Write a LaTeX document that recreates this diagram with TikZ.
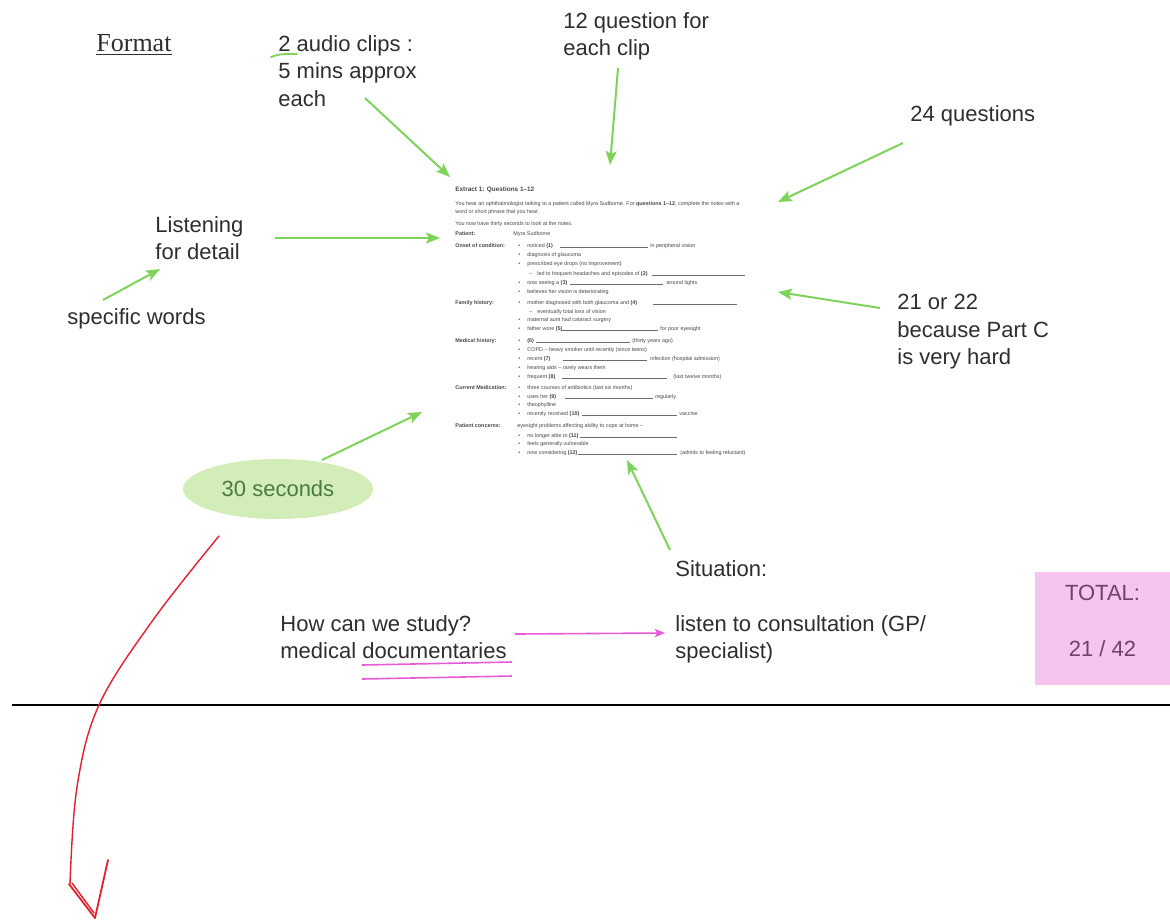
\documentclass[tikz,border=0pt]{standalone}
\usepackage{fontspec}
\setmainfont{Liberation Sans}
\newfontfamily\formatfont{Liberation Serif}
\usetikzlibrary{arrows.meta,shapes.geometric}

\definecolor{notegreen}{HTML}{7ED35A}
\definecolor{bubblegreen}{HTML}{D2EDB8}
\definecolor{bubbletext}{HTML}{4C7A3E}
\definecolor{notepink}{HTML}{E85BD6}
\definecolor{totalpink}{HTML}{F6C4EC}
\definecolor{totaltext}{HTML}{6B4467}
\definecolor{inkred}{HTML}{E3202E}
\definecolor{notetext}{HTML}{2E2E2E}
\definecolor{doctext}{HTML}{474747}

\newcommand{\bul}{\makebox[4.5pt][l]{\textbullet}}
\newcommand{\subdash}{\makebox[4pt][l]{–}}

\begin{document}
\begin{tikzpicture}[x=0.5pt,y=-0.5pt,
  note/.style={font=\fontsize{11}{13.75}\selectfont, text=notetext,
    align=left, inner sep=0pt, anchor=north west},
  doc/.style={font=\fontsize{2.7}{4.5}\selectfont, text=doctext,
    inner sep=0pt, anchor=base west},
  doclabel/.style={doc, font=\fontsize{2.7}{4.5}\selectfont\bfseries},
  blankline/.style={draw=doctext!80, line width=0.2pt},
  greenarrow/.style={draw=notegreen, line width=1pt,
    -{Stealth[length=7pt,width=5.5pt,inset=1.5pt]}},
  pinkarrow/.style={draw=notepink, line width=0.8pt,
    -{Stealth[length=5pt,width=4pt,inset=1pt]}},
  inkline/.style={draw=inkred, line width=0.7pt, line cap=round, line join=round},
  bubble/.style={ellipse, fill=bubblegreen, minimum width=95pt,
    minimum height=30pt, inner sep=0pt},
  totalbox/.style={rectangle, fill=totalpink, minimum width=67.5pt,
    minimum height=56.5pt, inner sep=0pt},
  totaltxt/.style={font=\fontsize{11}{13.75}\selectfont, text=totaltext, inner sep=0pt}]
\path[fill=white, use as bounding box] (0,0) rectangle (1170,923);

% annotations
\node[note, font=\formatfont\fontsize{13}{15}\selectfont] (format) at (96,34) {\underline{Format}};
\node[note] (clips) at (278,35) {2 audio clips :\\5 mins approx\\each};
\node[note] (perclip) at (563,12) {12 question for\\each clip};
\node[note] (allq) at (910,105) {24 questions};
\node[note] (listening) at (155,216) {Listening\\for detail};
\node[note] (words) at (67,308) {specific words};
\node[note] (partc) at (897,294) {21 or 22\\because Part C\\is very hard};
\node[bubble] (thirty) at (278,489) {};
\node[totaltxt, text=bubbletext] (thirtytxt) at (278,489) {30 seconds};
\node[note] (situation) at (675,560) {Situation:};
\node[note] (study) at (280,615) {How can we study?\\medical documentaries};
\node[note] (consult) at (675,615) {listen to consultation (GP/\\specialist)};
\node[totalbox] (total) at (1102.5,628.5) {};
\node[totaltxt] (totallbl) at (1102.5,593) {TOTAL:};
\node[totaltxt] (score) at (1102.5,649) {21 / 42};

% the extract
\node[doclabel, font=\fontsize{3.2}{4.5}\selectfont\bfseries] (extract) at (455,191) {Extract 1: Questions 1–12};
\node[doc] (intro1) at (455,205) {You hear an ophthalmologist talking to a patient called Myra Sudborne. For \textbf{questions 1–12}, complete the notes with a};
\node[doc] (intro2) at (455,213) {word or short phrase that you hear.};
\node[doc] (intro3) at (455,225) {You now have thirty seconds to look at the notes.};
\node[doclabel] (patient) at (455,235) {Patient:};
\node[doc] (name) at (513,235) {Myra Sudborne};

\node[doclabel] (onset) at (455,247) {Onset of condition:};
\node[doc] (q1) at (518,247) {\bul noticed \textbf{(1)}};
\draw[blankline] (560,247) -- (648,247);
\node[doc] (q1s) at (650,247) {in peripheral vision};
\node[doc] (o2) at (518,256) {\bul diagnosis of glaucoma};
\node[doc] (o3) at (518,265) {\bul prescribed eye drops (no improvement)};
\node[doc] (q2) at (529,275) {\subdash led to frequent headaches and episodes of \textbf{(2)}};
\draw[blankline] (652,275) -- (745,275);
\node[doc] (q3) at (518,284) {\bul now seeing a \textbf{(3)}};
\draw[blankline] (570,284) -- (663,284);
\node[doc] (q3s) at (666,284) {around lights};
\node[doc] (o5) at (518,293) {\bul believes her vision is deteriorating};

\node[doclabel] (family) at (455,304) {Family history:};
\node[doc] (q4) at (518,304) {\bul mother diagnosed with both glaucoma and \textbf{(4)}};
\draw[blankline] (653,304) -- (737,304);
\node[doc] (f2) at (529,313) {\subdash eventually total loss of vision};
\node[doc] (f3) at (518,321) {\bul maternal aunt had cataract surgery};
\node[doc] (q5) at (518,330) {\bul father wore \textbf{(5)}};
\draw[blankline] (561,330) -- (658,330);
\node[doc] (q5s) at (660,330) {for poor eyesight};

\node[doclabel] (medical) at (455,342) {Medical history:};
\node[doc] (q6) at (518,342) {\bul \textbf{(6)}};
\draw[blankline] (536,342) -- (630,342);
\node[doc] (q6s) at (632,342) {(thirty years ago)};
\node[doc] (m2) at (518,351) {\bul COPD – heavy smoker until recently (since teens)};
\node[doc] (q7) at (518,360) {\bul recent \textbf{(7)}};
\draw[blankline] (563,360) -- (647,360);
\node[doc] (q7s) at (650,360) {infection (hospital admission)};
\node[doc] (m4) at (518,369) {\bul hearing aids – rarely wears them};
\node[doc] (q8) at (518,378) {\bul frequent \textbf{(8)}};
\draw[blankline] (562,378) -- (667,378);
\node[doc] (q8s) at (673,378) {(last twelve months)};

\node[doclabel] (medication) at (455,389) {Current Medication:};
\node[doc] (c1) at (518,389) {\bul three courses of antibiotics (last six months)};
\node[doc] (q9) at (518,398) {\bul uses her \textbf{(9)}};
\draw[blankline] (565,398) -- (653,398);
\node[doc] (q9s) at (655,398) {regularly};
\node[doc] (c3) at (518,406) {\bul theophylline};
\node[doc] (q10) at (518,415) {\bul recently received \textbf{(10)}};
\draw[blankline] (582,415) -- (677,415);
\node[doc] (q10s) at (679,415) {vaccine};

\node[doclabel] (concerns) at (455,427) {Patient concerns:};
\node[doc] (p0) at (517,427) {eyesight problems affecting ability to cope at home –};
\node[doc] (q11) at (518,437) {\bul no longer able to \textbf{(11)}};
\draw[blankline] (580,437) -- (677,437);
\node[doc] (p2) at (518,445) {\bul feels generally vulnerable};
\node[doc] (q12) at (518,454) {\bul now considering \textbf{(12)}};
\draw[blankline] (578,454) -- (677,454);
\node[doc] (q12s) at (680,454) {(admits to feeling reluctant)};

% arrow ends
\coordinate (clipsT) at (365,98);   \coordinate (clipsH) at (450,177);
\coordinate (perclipT) at (618,68); \coordinate (perclipH) at (610,165);
\coordinate (allqT) at (903,143);   \coordinate (allqH) at (778,202);
\coordinate (listenT) at (275,238); \coordinate (listenH) at (440,238);
\coordinate (wordsT) at (103,300);  \coordinate (wordsH) at (160,269);
\coordinate (partcT) at (880,308);  \coordinate (partcH) at (778,292);
\coordinate (thirtyT) at (322,460); \coordinate (thirtyH) at (422,412);
\coordinate (sitT) at (670,550);    \coordinate (sitH) at (627,460);
\coordinate (studyT) at (515,634);  \coordinate (studyH) at (665,633);

\draw[greenarrow] (clipsT) -- (clipsH);
\draw[greenarrow] (perclipT) -- (perclipH);
\draw[greenarrow] (allqT) -- (allqH);
\draw[greenarrow] (listenT) -- (listenH);
\draw[greenarrow] (wordsT) -- (wordsH);
\draw[greenarrow] (partcT) -- (partcH);
\draw[greenarrow] (thirtyT) -- (thirtyH);
\draw[greenarrow] (sitT) -- (sitH);
\draw[pinkarrow] (studyT) -- (studyH);

% marks
\draw[notegreen, line width=0.9pt, line cap=round] (271,57) .. controls (280,54) .. (297,54);
\draw[notepink, line width=0.8pt] (362,665) -- (512,662);
\draw[notepink, line width=0.8pt] (362,679) -- (512,676);
\draw[line width=1.2pt] (12,705) -- (1170,705);

% red hand arrow
\coordinate (inkT) at (219,536);
\coordinate (inkH) at (95,918);
\draw[inkline] plot[smooth, tension=0.6] coordinates {(inkT) (153,620) (99,705) (77,787) (70,884)};
\draw[inkline, line width=0.9pt] (108,860) -- (inkH) -- (69,884);
\draw[inkline] (72,883) -- (94,913);
\end{tikzpicture}
\end{document}
